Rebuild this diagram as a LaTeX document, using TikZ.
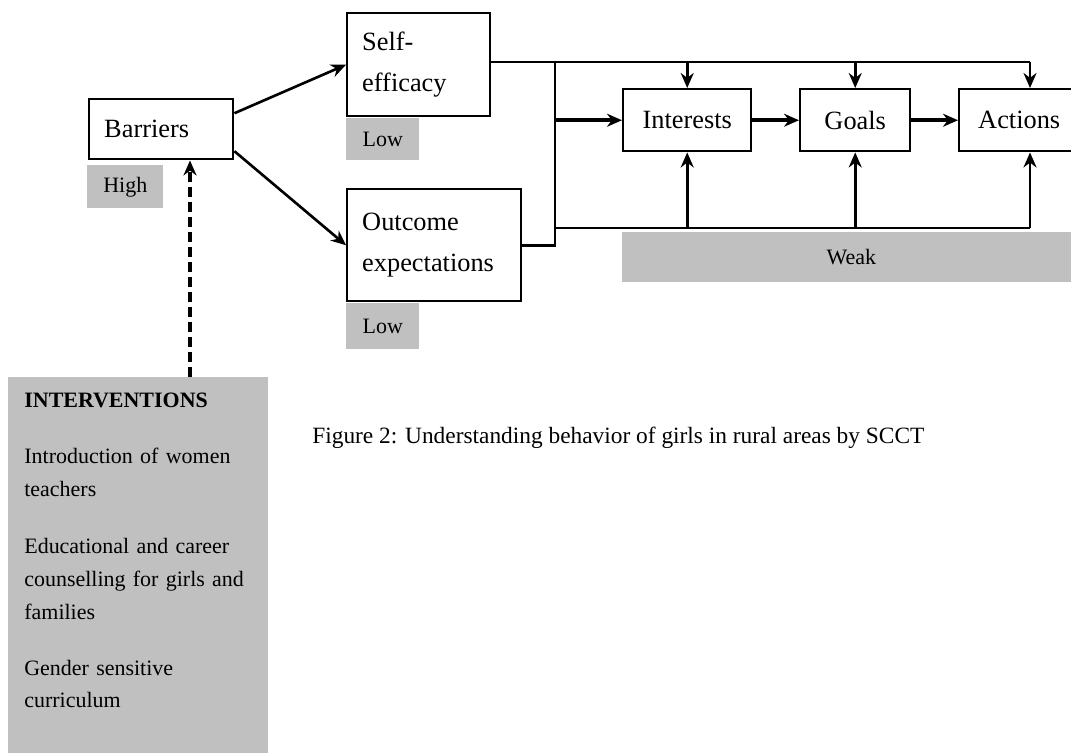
\documentclass[tikz,border=0pt]{standalone}
\usepackage{fontspec}
\setmainfont{Liberation Serif}
\usetikzlibrary{arrows.meta}
\definecolor{shade}{RGB}{192,192,192}
\newcommand{\bigtext}{\fontsize{15}{23}\selectfont}
\newcommand{\smalltext}{\fontsize{12.5}{18.7}\selectfont}
\begin{document}
\begin{tikzpicture}[x=0.02cm, y=-0.02cm,
  box/.style={draw, line width=1.4pt, fill=white, anchor=north west, inner xsep=0.3cm, font=\bigtext, align=left},
  tag/.style={fill=shade, anchor=north west, inner sep=0pt, font=\smalltext},
  link/.style={line width=1.5pt},
  arr/.style={link, -{Stealth[length=0.3cm, width=0.26cm]}},
  bold arr/.style={arr, line width=2.2pt}]
\useasboundingbox (0,0) rectangle (1071,752);
\node[box, text width=2.28cm, minimum height=1.2cm] (bar) at (88,98) {Barriers};
\node[tag, minimum width=1.52cm, minimum height=0.86cm] (high) at (87,165) {High};
\node[box, text width=2.26cm, minimum height=2.06cm] (se) at (346,12) {Self-\\efficacy};
\node[tag, minimum width=1.46cm, minimum height=0.84cm] (selow) at (346,118) {Low};
\node[box, text width=2.88cm, minimum height=2.24cm] (oe) at (346,188) {Outcome\\expectations};
\node[tag, minimum width=1.46cm, minimum height=0.92cm] (oelow) at (346,303) {Low};
\node[box, align=center, text width=1.96cm, minimum height=1.24cm] (int) at (622,88) {Interests};
\node[box, align=center, text width=1.6cm, minimum height=1.24cm] (gl) at (799,88) {Goals};
\node[box, align=center, text width=1.8cm, minimum height=1.24cm] (act) at (958,88) {Actions};
\node[tag, minimum width=9.16cm, minimum height=1cm] (weak) at (622,232) {Weak};
\node[fill=shade, anchor=north west, inner sep=0pt, minimum width=5.2cm, minimum height=7.8cm] (interv) at (8,377) {};
\node[anchor=north west, inner sep=0pt, align=left, text width=4.8cm, font=\smalltext] (intervtxt) at (24,393)
  {\textbf{INTERVENTIONS}\\[0.46cm]
   Introduction of women\\teachers\\[0.48cm]
   Educational and career\\counselling for girls and\\families\\[0.46cm]
   Gender sensitive\\curriculum};
\node[anchor=west, inner sep=0pt, font=\fontsize{13.3}{16}\selectfont] (caption) at (312,438)
  {Figure 2: Understanding behavior of girls in rural areas by SCCT};
\coordinate (spine) at (555,62);
\coordinate (topend) at (1030,62);
\coordinate (botend) at (1030,228);
\coordinate (dashfoot) at (190,377);
\draw[arr] ([yshift=0.32cm]bar.east) -- (se.west);
\draw[arr] ([yshift=-0.44cm]bar.east) -- (oe.west);
\draw[arr, line width=2pt, dash pattern=on 0.2cm off 0.1cm] (dashfoot) -- (dashfoot |- bar.south);
\draw[link] (se.east |- spine) -- (topend);
\draw[link] (spine) |- (oe.east);
\draw[link] (spine |- botend) -- (botend);
\draw[arr] (int.north |- spine) -- (int.north);
\draw[arr] (gl.north |- spine) -- (gl.north);
\draw[arr] (topend) -- (topend |- act.north);
\draw[arr] (int.south |- botend) -- (int.south);
\draw[arr] (gl.south |- botend) -- (gl.south);
\draw[arr] (botend) -- (botend |- act.south);
\draw[bold arr] (spine |- int.west) -- (int.west);
\draw[bold arr] (int) -- (gl);
\draw[bold arr] (gl) -- (act);
\end{tikzpicture}
\end{document}
